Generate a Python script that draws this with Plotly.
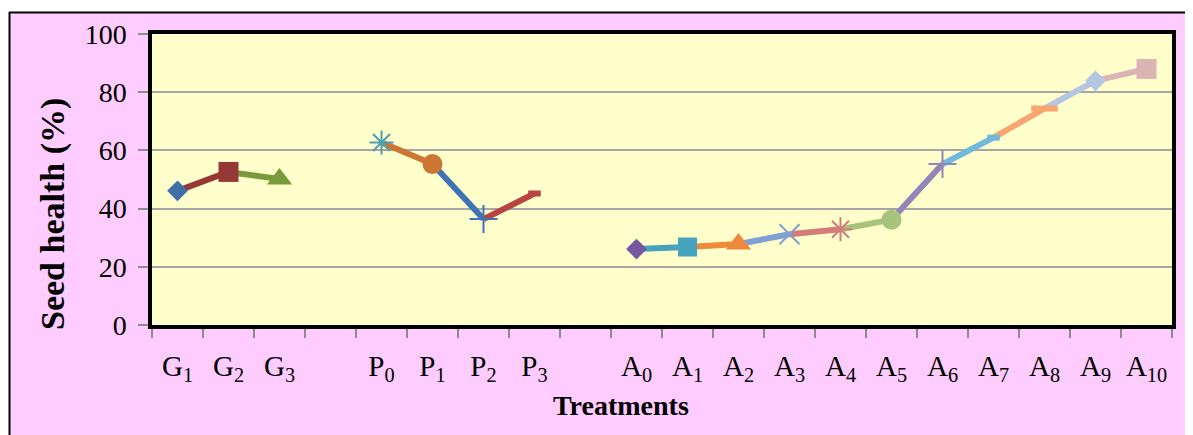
import plotly.graph_objects as go

# ---------------- data ----------------
g_labels = ["G<sub>1</sub>", "G<sub>2</sub>", "G<sub>3</sub>"]
g_values = [46.1, 52.6, 50.2]
p_labels = ["P<sub>0</sub>", "P<sub>1</sub>", "P<sub>2</sub>", "P<sub>3</sub>"]
p_values = [62.7, 55.3, 36.4, 45.2]
a_labels = ["A<sub>0</sub>", "A<sub>1</sub>", "A<sub>2</sub>", "A<sub>3</sub>", "A<sub>4</sub>",
            "A<sub>5</sub>", "A<sub>6</sub>", "A<sub>7</sub>", "A<sub>8</sub>", "A<sub>9</sub>",
            "A<sub>10</sub>"]
a_values = [26.1, 26.8, 27.8, 31.2, 32.9, 36.2, 55.3, 64.4, 74.4, 83.9, 88.0]
gap_labels = ["\u200b", "\u200b\u200b"]

y_ticks = [0, 20, 40, 60, 80, 100]
x_title = "Treatments"
y_title = "Seed health (%)"

# ---------------- styles ----------------
g_colors = ["#3E6FA8", "#963836", "#7A9A3E"]
p_colors = ["#4E9FB6", "#CC7634", "#3F73B8", "#BA4443"]
a_colors = ["#7558A0", "#45A3BD", "#EE8A3C", "#7F9FD6", "#D27C7C", "#A8C47C",
            "#9684B8", "#6FBADA", "#F8A572", "#B5C6E2", "#DDB4B4"]
g_symbols = ["diamond", "square", "triangle-up"]
p_symbols = ["asterisk-open", "circle", "cross-thin-open", "line-ew-open"]
a_symbols = ["diamond", "square", "triangle-up", "x-thin-open", "asterisk-open", "circle",
             "cross-thin-open", "line-ew-open", "line-ew-open", "diamond", "square"]
g_sizes = [16, 20, 22]
p_sizes = [20, 20, 20, 9]
a_sizes = [16, 19, 22, 20, 20, 20, 20, 9, 19, 16, 20]

categories = g_labels + [gap_labels[0]] + p_labels + [gap_labels[1]] + a_labels

fig = go.Figure()


def add_group(labels, values, colors, symbols, sizes):
    for i in range(1, len(labels)):
        fig.add_trace(go.Scatter(
            x=[labels[i - 1], labels[i]], y=[values[i - 1], values[i]],
            mode="lines", line=dict(color=colors[i], width=6),
            showlegend=False, hoverinfo="skip"))
    lw = []
    for s in symbols:
        if s.startswith("line-ew"):
            lw.append(6)
        elif s.endswith("-open"):
            lw.append(2)
        else:
            lw.append(0)
    fig.add_trace(go.Scatter(
        x=labels, y=values, mode="markers",
        marker=dict(symbol=symbols, size=sizes, color=colors, opacity=1,
                    line=dict(color=colors, width=lw)),
        showlegend=False))


add_group(g_labels, g_values, g_colors, g_symbols, g_sizes)
add_group(p_labels, p_values, p_colors, p_symbols, p_sizes)
add_group(a_labels, a_values, a_colors, a_symbols, a_sizes)

# page body has an 8px margin: work in figure pixel coordinates
OFF = 8
W, H = 1193 - OFF, 435 - OFF
L, R, T, B = 152 - OFF, 1172 - OFF, 34 - OFF, 325 - OFF


def px_x(x):
    return (x - OFF - L) / (R - L)


def px_y(y):
    return (B - (y - OFF)) / (B - T)


PINK = "#FFCCFF"
shapes = [
    dict(type="rect", xref="paper", yref="paper", x0=px_x(0), x1=px_x(9), y0=px_y(440),
         y1=px_y(0), fillcolor="white", line=dict(width=0), layer="above"),
    dict(type="rect", xref="paper", yref="paper", x0=px_x(0), x1=px_x(1200), y0=px_y(12),
         y1=px_y(0), fillcolor="white", line=dict(width=0), layer="above"),
    dict(type="line", xref="paper", yref="paper", x0=px_x(9), x1=px_x(1200), y0=px_y(12.5),
         y1=px_y(12.5), line=dict(color="black", width=2), layer="above"),
    dict(type="line", xref="paper", yref="paper", x0=px_x(9.5), x1=px_x(9.5), y0=px_y(12),
         y1=px_y(440), line=dict(color="black", width=2), layer="above"),
]

annotations = [
    dict(text="<b>" + x_title + "</b>", xref="paper", yref="paper",
         x=px_x(621), y=px_y(406), xanchor="center", yanchor="middle",
         showarrow=False, font=dict(family="Liberation Serif", size=28, color="black")),
    dict(text="<b>" + y_title + "</b>", xref="paper", yref="paper",
         x=px_x(53), y=px_y(214), xanchor="center", yanchor="middle", textangle=-90,
         showarrow=False, font=dict(family="Liberation Serif", size=34, color="black")),
]

fig.update_layout(
    width=W, height=H,
    margin=dict(l=L, r=W - R, t=T, b=H - B, pad=0),
    paper_bgcolor=PINK,
    plot_bgcolor="#FFFFCC",
    shapes=shapes,
    annotations=annotations,
    font=dict(family="Liberation Serif", color="black"),
    xaxis=dict(
        type="category", categoryorder="array", categoryarray=categories,
        range=[-0.5, len(categories) - 0.5],
        tickson="boundaries", ticks="outside", ticklen=9, tickcolor="#8C8C8C", tickwidth=1.5,
        showgrid=False, zeroline=False,
        showline=True, linecolor="black", linewidth=3.5, mirror=True,
        tickfont=dict(family="Liberation Serif", size=29, color="black"),
        ticklabelstandoff=12,
    ),
    yaxis=dict(
        range=[0, 100], tickvals=y_ticks, ticks="outside", ticklen=10,
        tickcolor="#8C8C8C", tickwidth=1.5,
        showgrid=True, gridcolor="#A6A6A6", gridwidth=1.5, zeroline=False,
        showline=True, linecolor="black", linewidth=3.5, mirror=True,
        tickfont=dict(family="Liberation Serif", size=28, color="black"),
        ticklabelstandoff=6,
    ),
)

fig.write_html("out.html")
